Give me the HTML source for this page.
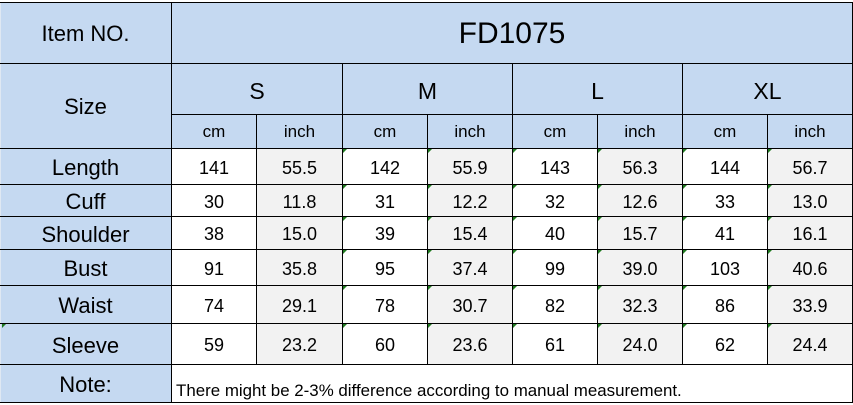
<!DOCTYPE html>
<html><head><meta charset="utf-8">
<style>
html,body{margin:0;padding:0;background:#fff;}
#w{position:relative;width:853px;height:405px;overflow:hidden;font-family:"Liberation Sans",Arial,sans-serif;color:#000;}
.b{position:absolute;}
.c{position:absolute;display:flex;align-items:center;justify-content:center;white-space:nowrap;}
.h{position:absolute;height:1px;background:#000;}
.v{position:absolute;width:1px;background:#000;}
.t{position:absolute;width:0;height:0;border-top:4px solid #1f7a1f;border-right:4px solid transparent;}
.lab{font-size:22px;}
.num{font-size:18px;}
.unit{font-size:17px;}
.sz{font-size:23px;}
</style></head><body><div id="w">
<!-- backgrounds -->
<div class="b" style="left:0;top:2px;width:171px;height:400px;background:#c5d9f1"></div>
<div class="b" style="left:0;top:2px;width:1px;height:400px;background:#dfe8f3"></div>
<div class="b" style="left:171px;top:2px;width:682px;height:146px;background:#c5d9f1"></div>
<div class="b" style="left:171px;top:148px;width:85px;height:216px;background:#fff"></div>
<div class="b" style="left:256px;top:148px;width:86px;height:216px;background:#f2f2f2"></div>
<div class="b" style="left:342px;top:148px;width:85px;height:216px;background:#fff"></div>
<div class="b" style="left:427px;top:148px;width:85px;height:216px;background:#f2f2f2"></div>
<div class="b" style="left:512px;top:148px;width:85px;height:216px;background:#fff"></div>
<div class="b" style="left:597px;top:148px;width:85px;height:216px;background:#f2f2f2"></div>
<div class="b" style="left:682px;top:148px;width:85px;height:216px;background:#fff"></div>
<div class="b" style="left:767px;top:148px;width:85px;height:216px;background:#f2f2f2"></div>
<div class="b" style="left:171px;top:364px;width:682px;height:38px;background:#fff"></div>

<!-- horizontal lines -->
<div class="h" style="left:0;top:2px;width:853px"></div>
<div class="h" style="left:0;top:63px;width:853px"></div>
<div class="h" style="left:171px;top:114px;width:682px"></div>
<div class="h" style="left:0;top:148px;width:853px"></div>
<div class="h" style="left:0;top:184px;width:853px"></div>
<div class="h" style="left:0;top:216px;width:853px"></div>
<div class="h" style="left:0;top:249px;width:853px"></div>
<div class="h" style="left:0;top:285px;width:853px"></div>
<div class="h" style="left:0;top:323px;width:853px"></div>
<div class="h" style="left:0;top:364px;width:853px"></div>
<div class="h" style="left:0;top:402px;width:853px"></div>

<!-- vertical lines -->
<div class="v" style="left:171px;top:2px;height:401px"></div>
<div class="v" style="left:852px;top:2px;height:401px"></div>
<div class="v" style="left:342px;top:63px;height:301px"></div>
<div class="v" style="left:512px;top:63px;height:301px"></div>
<div class="v" style="left:682px;top:63px;height:301px"></div>
<div class="v" style="left:256px;top:114px;height:250px"></div>
<div class="v" style="left:427px;top:114px;height:250px"></div>
<div class="v" style="left:597px;top:114px;height:250px"></div>
<div class="v" style="left:767px;top:114px;height:250px"></div>

<!-- header text -->
<div class="c lab" style="left:0;top:3px;width:171px;height:62px">Item NO.</div>
<div class="c" style="left:172px;top:3px;width:680px;height:62px;font-size:30px">FD1075</div>
<div class="c lab" style="left:0;top:64px;width:171px;height:86px">Size</div>
<div class="c sz" style="left:172px;top:66px;width:170px;height:50px">S</div>
<div class="c sz" style="left:343px;top:66px;width:169px;height:50px">M</div>
<div class="c sz" style="left:513px;top:66px;width:169px;height:50px">L</div>
<div class="c sz" style="left:683px;top:66px;width:169px;height:50px">XL</div>
<div class="c unit" style="left:172px;top:115px;width:84px;height:34px">cm</div>
<div class="c unit" style="left:257px;top:115px;width:85px;height:34px">inch</div>
<div class="c unit" style="left:343px;top:115px;width:84px;height:34px">cm</div>
<div class="c unit" style="left:428px;top:115px;width:84px;height:34px">inch</div>
<div class="c unit" style="left:513px;top:115px;width:84px;height:34px">cm</div>
<div class="c unit" style="left:598px;top:115px;width:84px;height:34px">inch</div>
<div class="c unit" style="left:683px;top:115px;width:84px;height:34px">cm</div>
<div class="c unit" style="left:768px;top:115px;width:84px;height:34px">inch</div>

<!-- row labels -->
<div class="c lab" style="left:0;top:150px;width:171px;height:36px">Length</div>
<div class="c lab" style="left:0;top:186px;width:171px;height:32px">Cuff</div>
<div class="c lab" style="left:0;top:218px;width:171px;height:33px">Shoulder</div>
<div class="c lab" style="left:0;top:251px;width:171px;height:36px">Bust</div>
<div class="c lab" style="left:0;top:287px;width:171px;height:38px">Waist</div>
<div class="c lab" style="left:0;top:325px;width:171px;height:41px">Sleeve</div>
<div class="c lab" style="left:0;top:366px;width:171px;height:38px">Note:</div>

<!-- data rows -->
<div class="c num" style="left:172px;top:150px;width:84px;height:36px">141</div>
<div class="c num" style="left:257px;top:150px;width:85px;height:36px">55.5</div>
<div class="c num" style="left:343px;top:150px;width:84px;height:36px">142</div>
<div class="c num" style="left:428px;top:150px;width:84px;height:36px">55.9</div>
<div class="c num" style="left:513px;top:150px;width:84px;height:36px">143</div>
<div class="c num" style="left:598px;top:150px;width:84px;height:36px">56.3</div>
<div class="c num" style="left:683px;top:150px;width:84px;height:36px">144</div>
<div class="c num" style="left:768px;top:150px;width:84px;height:36px">56.7</div>

<div class="c num" style="left:172px;top:186px;width:84px;height:32px">30</div>
<div class="c num" style="left:257px;top:186px;width:85px;height:32px">11.8</div>
<div class="c num" style="left:343px;top:186px;width:84px;height:32px">31</div>
<div class="c num" style="left:428px;top:186px;width:84px;height:32px">12.2</div>
<div class="c num" style="left:513px;top:186px;width:84px;height:32px">32</div>
<div class="c num" style="left:598px;top:186px;width:84px;height:32px">12.6</div>
<div class="c num" style="left:683px;top:186px;width:84px;height:32px">33</div>
<div class="c num" style="left:768px;top:186px;width:84px;height:32px">13.0</div>

<div class="c num" style="left:172px;top:218px;width:84px;height:33px">38</div>
<div class="c num" style="left:257px;top:218px;width:85px;height:33px">15.0</div>
<div class="c num" style="left:343px;top:218px;width:84px;height:33px">39</div>
<div class="c num" style="left:428px;top:218px;width:84px;height:33px">15.4</div>
<div class="c num" style="left:513px;top:218px;width:84px;height:33px">40</div>
<div class="c num" style="left:598px;top:218px;width:84px;height:33px">15.7</div>
<div class="c num" style="left:683px;top:218px;width:84px;height:33px">41</div>
<div class="c num" style="left:768px;top:218px;width:84px;height:33px">16.1</div>

<div class="c num" style="left:172px;top:251px;width:84px;height:36px">91</div>
<div class="c num" style="left:257px;top:251px;width:85px;height:36px">35.8</div>
<div class="c num" style="left:343px;top:251px;width:84px;height:36px">95</div>
<div class="c num" style="left:428px;top:251px;width:84px;height:36px">37.4</div>
<div class="c num" style="left:513px;top:251px;width:84px;height:36px">99</div>
<div class="c num" style="left:598px;top:251px;width:84px;height:36px">39.0</div>
<div class="c num" style="left:683px;top:251px;width:84px;height:36px">103</div>
<div class="c num" style="left:768px;top:251px;width:84px;height:36px">40.6</div>

<div class="c num" style="left:172px;top:287px;width:84px;height:38px">74</div>
<div class="c num" style="left:257px;top:287px;width:85px;height:38px">29.1</div>
<div class="c num" style="left:343px;top:287px;width:84px;height:38px">78</div>
<div class="c num" style="left:428px;top:287px;width:84px;height:38px">30.7</div>
<div class="c num" style="left:513px;top:287px;width:84px;height:38px">82</div>
<div class="c num" style="left:598px;top:287px;width:84px;height:38px">32.3</div>
<div class="c num" style="left:683px;top:287px;width:84px;height:38px">86</div>
<div class="c num" style="left:768px;top:287px;width:84px;height:38px">33.9</div>

<div class="c num" style="left:172px;top:325px;width:84px;height:41px">59</div>
<div class="c num" style="left:257px;top:325px;width:85px;height:41px">23.2</div>
<div class="c num" style="left:343px;top:325px;width:84px;height:41px">60</div>
<div class="c num" style="left:428px;top:325px;width:84px;height:41px">23.6</div>
<div class="c num" style="left:513px;top:325px;width:84px;height:41px">61</div>
<div class="c num" style="left:598px;top:325px;width:84px;height:41px">24.0</div>
<div class="c num" style="left:683px;top:325px;width:84px;height:41px">62</div>
<div class="c num" style="left:768px;top:325px;width:84px;height:41px">24.4</div>

<!-- note text -->
<div class="b" style="left:176px;top:381px;font-size:16.9px;line-height:20px;white-space:nowrap">There might be 2-3% difference according to manual measurement.</div>

<!-- green error markers -->
<div class="t" style="left:343px;top:149px"></div><div class="t" style="left:428px;top:149px"></div><div class="t" style="left:513px;top:149px"></div><div class="t" style="left:598px;top:149px"></div><div class="t" style="left:683px;top:149px"></div><div class="t" style="left:768px;top:149px"></div>
<div class="t" style="left:343px;top:185px"></div><div class="t" style="left:428px;top:185px"></div><div class="t" style="left:513px;top:185px"></div><div class="t" style="left:598px;top:185px"></div><div class="t" style="left:683px;top:185px"></div><div class="t" style="left:768px;top:185px"></div>
<div class="t" style="left:343px;top:217px"></div><div class="t" style="left:428px;top:217px"></div><div class="t" style="left:513px;top:217px"></div><div class="t" style="left:598px;top:217px"></div><div class="t" style="left:683px;top:217px"></div><div class="t" style="left:768px;top:217px"></div>
<div class="t" style="left:343px;top:250px"></div><div class="t" style="left:428px;top:250px"></div><div class="t" style="left:513px;top:250px"></div><div class="t" style="left:598px;top:250px"></div><div class="t" style="left:683px;top:250px"></div><div class="t" style="left:768px;top:250px"></div>
<div class="t" style="left:343px;top:286px"></div><div class="t" style="left:428px;top:286px"></div><div class="t" style="left:513px;top:286px"></div><div class="t" style="left:598px;top:286px"></div><div class="t" style="left:683px;top:286px"></div><div class="t" style="left:768px;top:286px"></div>
<div class="t" style="left:343px;top:324px"></div><div class="t" style="left:428px;top:324px"></div><div class="t" style="left:513px;top:324px"></div><div class="t" style="left:598px;top:324px"></div><div class="t" style="left:683px;top:324px"></div><div class="t" style="left:768px;top:324px"></div>
<div class="t" style="left:2px;top:324px"></div>
</div></body></html>
